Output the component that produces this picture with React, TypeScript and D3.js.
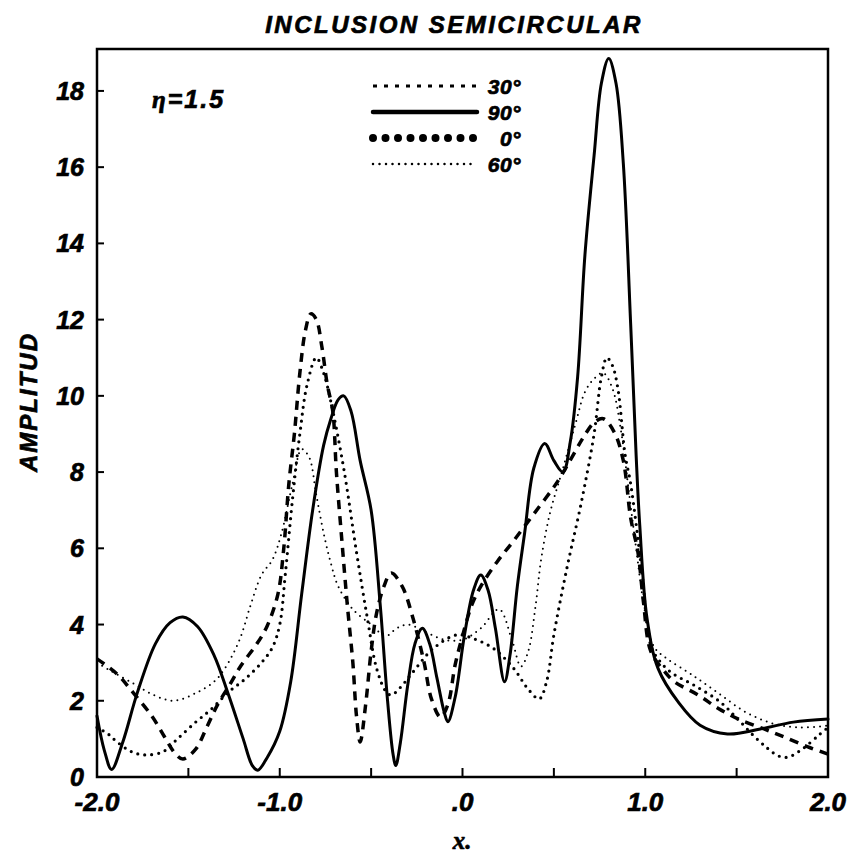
import React from "react";
import * as d3 from "d3";

const W = 854;
const H = 858;

const xTickValues = [-2, -1, 0, 1, 2];
const xTickLabels = ["-2.0", "-1.0", ".0", "1.0", "2.0"];
const xMinorTicks = [-1.5, -0.5, 0.5, 1.5];
const yTickValues = [0, 2, 4, 6, 8, 10, 12, 14, 16, 18];

const legendLabels = ["30°", "90°", "0°", "60°"];

// 90° — solid
const series90: [number, number][] = [
  [-2.0, 1.6], [-1.96, 0.7], [-1.92, 0.2], [-1.86, 0.9], [-1.78, 2.2], [-1.68, 3.5], [-1.6, 4.05],
  [-1.53, 4.2], [-1.45, 3.95], [-1.36, 3.2], [-1.28, 2.15], [-1.2, 1.0], [-1.15, 0.3], [-1.12, 0.18],
  [-1.07, 0.5], [-1.0, 1.2], [-0.94, 2.5], [-0.88, 4.8], [-0.82, 7.0], [-0.76, 8.7], [-0.72, 9.4],
  [-0.68, 9.9], [-0.65, 10.0], [-0.61, 9.6], [-0.56, 8.3], [-0.5, 7.0], [-0.45, 4.5], [-0.41, 2.0],
  [-0.38, 0.6], [-0.365, 0.3], [-0.34, 0.9], [-0.3, 2.4], [-0.26, 3.5], [-0.22, 3.9], [-0.18, 3.5],
  [-0.14, 2.6], [-0.1, 1.7], [-0.08, 1.45], [-0.04, 2.1], [0.01, 3.7], [0.06, 4.9], [0.1, 5.3],
  [0.14, 4.9], [0.18, 3.9], [0.23, 2.5], [0.26, 3.2], [0.3, 5.0], [0.34, 6.4], [0.39, 8.1],
  [0.45, 8.75], [0.5, 8.3], [0.55, 8.0], [0.59, 8.8], [0.63, 10.5], [0.67, 13.7], [0.72, 16.3],
  [0.76, 18.2], [0.8, 18.85], [0.84, 18.2], [0.88, 16.1], [0.92, 11.9], [0.95, 8.45], [0.97, 6.6],
  [1.01, 4.15], [1.07, 2.85], [1.18, 1.97], [1.3, 1.36], [1.45, 1.13], [1.63, 1.26], [1.81, 1.44],
  [2.0, 1.52],
];

// 0° — heavy dashes
const series0: [number, number][] = [
  [-2.0, 3.1], [-1.89, 2.7], [-1.8, 2.2], [-1.7, 1.6], [-1.63, 1.05], [-1.57, 0.6], [-1.53, 0.47],
  [-1.46, 0.73], [-1.4, 1.3], [-1.34, 1.9], [-1.27, 2.45], [-1.21, 2.94], [-1.13, 3.46], [-1.07, 3.95],
  [-1.01, 4.8], [-0.98, 5.9], [-0.95, 7.7], [-0.92, 9.0], [-0.89, 10.6], [-0.86, 11.7], [-0.83, 12.15],
  [-0.8, 12.0], [-0.77, 11.3], [-0.74, 10.3], [-0.71, 9.6], [-0.69, 8.0], [-0.66, 6.2], [-0.63, 4.5],
  [-0.6, 3.0], [-0.58, 1.6], [-0.56, 0.92], [-0.53, 1.9], [-0.5, 3.3], [-0.47, 4.3], [-0.43, 5.0],
  [-0.39, 5.35], [-0.33, 5.0], [-0.27, 4.15], [-0.21, 3.0], [-0.17, 2.05], [-0.12, 1.57], [-0.08, 1.9],
  [-0.04, 2.95], [0.0, 3.7], [0.05, 4.5], [0.1, 5.0], [0.19, 5.65], [0.28, 6.2], [0.39, 6.9],
  [0.52, 7.75], [0.6, 8.4], [0.66, 8.9], [0.72, 9.3], [0.77, 9.4], [0.83, 9.05], [0.88, 8.3],
  [0.92, 6.8], [0.96, 5.9], [0.99, 4.6], [1.03, 3.3], [1.1, 2.8], [1.16, 2.5], [1.29, 2.15],
  [1.4, 1.8], [1.51, 1.52], [1.65, 1.26], [1.76, 1.05], [1.89, 0.79], [2.0, 0.6],
];

// 30° — medium dots
const series30: [number, number][] = [
  [-2.0, 1.3], [-1.94, 1.13], [-1.89, 0.92], [-1.81, 0.66], [-1.74, 0.58], [-1.64, 0.66], [-1.56, 1.0],
  [-1.46, 1.44], [-1.37, 1.8], [-1.28, 2.23], [-1.19, 2.57], [-1.1, 3.0], [-1.04, 3.4], [-1.0, 4.0],
  [-0.97, 5.3], [-0.93, 7.3], [-0.89, 9.0], [-0.85, 10.3], [-0.8, 11.0], [-0.76, 10.6], [-0.72, 9.84],
  [-0.65, 8.1], [-0.58, 5.9], [-0.52, 4.15], [-0.47, 2.85], [-0.42, 2.25], [-0.39, 2.15], [-0.34, 2.35],
  [-0.28, 2.7], [-0.16, 3.37], [-0.03, 3.73], [0.06, 3.63], [0.17, 3.37], [0.28, 2.85], [0.36, 2.3],
  [0.42, 2.05], [0.46, 2.5], [0.5, 3.73], [0.57, 5.45], [0.65, 7.2], [0.72, 9.0], [0.76, 10.5],
  [0.79, 11.0], [0.82, 10.8], [0.85, 10.2], [0.89, 8.45], [0.92, 7.7], [0.98, 5.45], [1.03, 3.45],
  [1.07, 3.1], [1.14, 2.75], [1.27, 2.4], [1.41, 1.97], [1.51, 1.5], [1.6, 1.05], [1.67, 0.75],
  [1.73, 0.55], [1.78, 0.52], [1.85, 0.7], [1.95, 1.1], [2.0, 1.3],
];

// 60° — fine dots
const series60: [number, number][] = [
  [-2.0, 3.0], [-1.93, 2.8], [-1.8, 2.45], [-1.69, 2.15], [-1.58, 2.0], [-1.46, 2.2], [-1.36, 2.5],
  [-1.3, 2.85], [-1.22, 3.6], [-1.16, 4.5], [-1.1, 5.3], [-1.04, 5.7], [-0.99, 6.4], [-0.93, 7.7],
  [-0.88, 8.6], [-0.84, 8.4], [-0.8, 7.4], [-0.76, 6.4], [-0.72, 5.6], [-0.68, 5.0], [-0.6, 4.4],
  [-0.5, 4.0], [-0.42, 3.7], [-0.36, 3.9], [-0.3, 4.0], [-0.2, 3.8], [-0.1, 3.6], [0.0, 3.6],
  [0.1, 3.9], [0.2, 4.4], [0.27, 3.6], [0.32, 2.9], [0.36, 3.3], [0.4, 4.5], [0.43, 5.7],
  [0.48, 6.95], [0.55, 8.1], [0.62, 9.3], [0.67, 10.1], [0.72, 10.45], [0.77, 10.6], [0.82, 10.2],
  [0.87, 9.0], [0.91, 7.5], [0.95, 6.0], [1.0, 4.3], [1.05, 3.4], [1.12, 3.1], [1.25, 2.7],
  [1.4, 2.2], [1.55, 1.7], [1.7, 1.4], [1.85, 1.3], [2.0, 1.35],
];

const FONT = "'Liberation Sans', Arial, sans-serif";

export default function App() {
  const left = 97;
  const right = 828;
  const top = 49;
  const bottom = 777;

  const x = d3.scaleLinear().domain([-2, 2]).range([left, right]);
  const y = d3.scaleLinear().domain([0, 19.1]).range([bottom, top]);

  const line = d3
    .line<[number, number]>()
    .x((d) => x(d[0]))
    .y((d) => y(d[1]))
    .curve(d3.curveCatmullRom.alpha(0.5));

  const series = [
    { data: series60, stroke: 2, dash: "0,6", cap: "round" },
    { data: series30, stroke: 3.2, dash: "0,7", cap: "round" },
    { data: series0, stroke: 3.5, dash: "9,7", cap: "butt" },
    { data: series90, stroke: 3, dash: "none", cap: "round" },
  ];

  const legendRows = [
    { label: legendLabels[0], y: 86, stroke: 3, dash: "4,7", cap: "butt" },
    { label: legendLabels[1], y: 112, stroke: 4.5, dash: "none", cap: "round" },
    { label: legendLabels[2], y: 138, stroke: 8, dash: "0,12.5", cap: "round" },
    { label: legendLabels[3], y: 164, stroke: 2.5, dash: "0,6.5", cap: "round" },
  ];

  const textStyle = {
    fontFamily: FONT,
    fontWeight: "bold" as const,
    fontStyle: "italic" as const,
    fill: "#000",
    stroke: "#000",
    strokeWidth: 0.7,
  };

  return (
    <svg width={W} height={H} style={{ position: "absolute", left: 0, top: 0, background: "#fff" }}>
      <rect x={0} y={0} width={W} height={H} fill="#fff" />
      {/* title */}
      <text x={454} y={33} textAnchor="middle" fontSize={24} letterSpacing={2.5} {...textStyle}>
        INCLUSION SEMICIRCULAR
      </text>

      {/* frame */}
      <rect x={left} y={top} width={right - left} height={bottom - top} fill="none" stroke="#000" strokeWidth={2.5} />

      {/* y ticks */}
      {yTickValues.map((v) => (
        <g key={"yt" + v}>
          {v > 0 && <line x1={left} x2={left + 7} y1={y(v)} y2={y(v)} stroke="#000" strokeWidth={2} />}
          <text x={84} y={y(v) + 9} textAnchor="end" fontSize={25} {...textStyle}>
            {v}
          </text>
        </g>
      ))}

      {/* x ticks */}
      {xTickValues.map((v, i) => (
        <g key={"xt" + v}>
          {v > -2 && v < 2 && (
            <line x1={x(v)} x2={x(v)} y1={bottom} y2={bottom - 9} stroke="#000" strokeWidth={2} />
          )}
          <text x={x(v)} y={811} textAnchor="middle" fontSize={26} {...textStyle}>
            {xTickLabels[i]}
          </text>
        </g>
      ))}
      {xMinorTicks.map((v) => (
        <line key={"xm" + v} x1={x(v)} x2={x(v)} y1={bottom} y2={bottom - 9} stroke="#000" strokeWidth={2} />
      ))}

      {/* axis titles */}
      <text x={462} y={849} textAnchor="middle" fontSize={25} fontFamily="'Liberation Serif', serif" fontWeight="bold" fontStyle="italic" stroke="#000" strokeWidth={0.6}>
        x.
      </text>
      <text
        transform={`translate(37, 402) rotate(-90)`}
        textAnchor="middle"
        fontSize={24}
        letterSpacing={2}
        {...textStyle}
      >
        AMPLITUD
      </text>

      {/* eta label */}
      <text x={152} y={108} fontSize={25} letterSpacing={2} {...textStyle}>
        <tspan fontFamily="'Liberation Serif', serif">η</tspan>=1.5
      </text>

      {/* curves */}
      {series.map((s, i) => (
        <path
          key={"s" + i}
          d={line(s.data) || ""}
          fill="none"
          stroke="#000"
          strokeWidth={s.stroke}
          strokeDasharray={s.dash}
          strokeLinecap={s.cap as any}
          strokeLinejoin="round"
        />
      ))}

      {/* legend */}
      {legendRows.map((r) => (
        <g key={"lg" + r.label}>
          <line x1={373} x2={477} y1={r.y} y2={r.y} stroke="#000" strokeWidth={r.stroke} strokeDasharray={r.dash} strokeLinecap={r.cap as any} />
          <text x={521} y={r.y + 7.5} textAnchor="end" fontSize={21} letterSpacing={0.5} {...textStyle}>
            {r.label}
          </text>
        </g>
      ))}
    </svg>
  );
}
